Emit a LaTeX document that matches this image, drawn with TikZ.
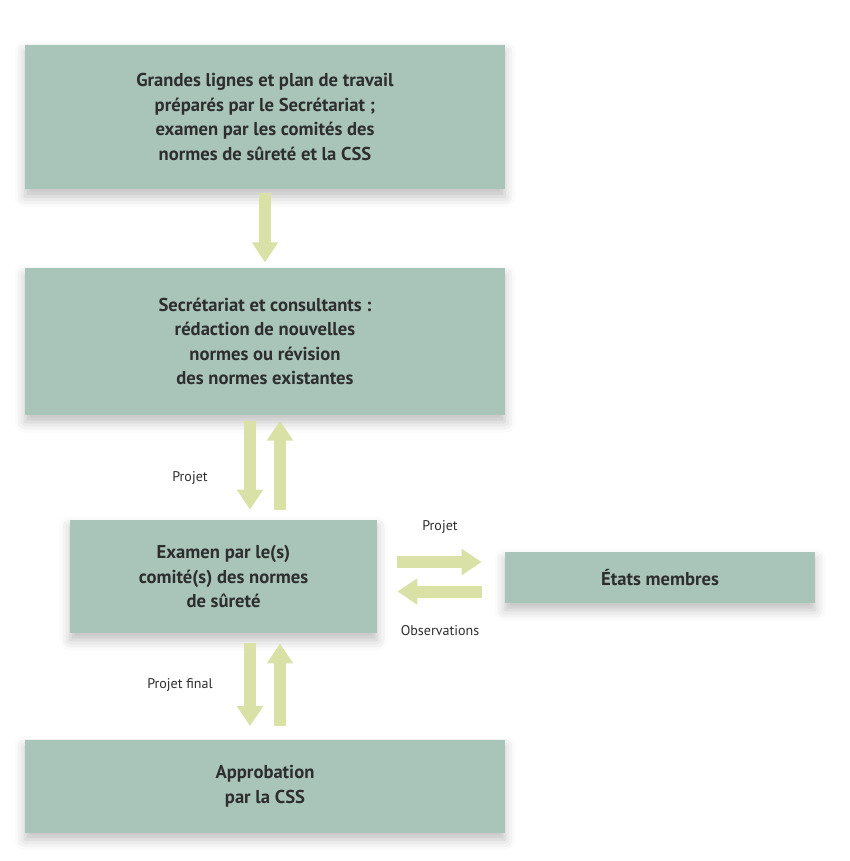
\documentclass[tikz,border=0pt]{standalone}
\usepackage{fontspec}
\setmainfont{PT Sans}
\usetikzlibrary{arrows.meta,shadows.blur}
\definecolor{boxgreen}{HTML}{A9C5BA}
\definecolor{arrowgreen}{HTML}{D9E1A6}
\definecolor{textgray}{HTML}{2E2E2E}
\begin{document}
\begin{tikzpicture}[x = 0.02cm,y = -0.02cm,
    box/.style = {fill = boxgreen,align = center,inner sep = 0pt,text = textgray,
        font = {\bfseries\fontsize{10.6}{14}\selectfont},
        blur shadow = {shadow xshift = 0pt,shadow yshift = -4pt,shadow blur radius = 6pt,shadow opacity = 25}},
    arr/.style = {draw = arrowgreen,line width = 0.24cm,-{Triangle[length = 0.4cm,width = 0.5cm]}},
    lbl/.style = {font = {\fontsize{8}{10}\selectfont},text = textgray}]
        \useasboundingbox (0,0) rectangle (849,861);

        \node[box,minimum width = 9.6cm,minimum height = 2.9cm] (plan) at (265,117)
            {Grandes lignes et plan de travail\\préparés par le Secrétariat ;\\examen par les comités des\\normes de sûreté et la CSS};
        \node[box,minimum width = 9.6cm,minimum height = 2.94cm] (redac) at (265,341.5)
            {Secrétariat et consultants :\\rédaction de nouvelles\\normes ou révision\\des normes existantes};
        \node[box,minimum width = 6.14cm,minimum height = 2.26cm] (examen) at (223.5,576.5)
            {Examen par le(s)\\comité(s) des normes\\de sûreté};
        \node[box,minimum width = 6.2cm,minimum height = 1.02cm] (etats) at (660,577.5) {États membres};
        \node[box,minimum width = 9.6cm,minimum height = 1.86cm] (appro) at (265,786)
            {Approbation\\par la CSS};

        \draw[arr,shorten <= 2pt,shorten >= 3pt] (plan.south) -- (redac.north);

        \draw[arr,shorten <= 3pt,shorten >= 0.2cm] ([xshift = -0.3cm]redac.south) -- ([xshift = -0.3cm]redac.south |- examen.north);
        \draw[arr,shorten <= 0.2cm,shorten >= 3pt] ([xshift = 0.3cm]redac.south |- examen.north) -- ([xshift = 0.3cm]redac.south);

        \draw[arr,shorten <= 0.4cm,shorten >= 0.46cm] ([yshift = 0.29cm]examen.east) -- ([yshift = 0.29cm]examen.east -| etats.west);
        \draw[arr,shorten <= 0.46cm,shorten >= 0.4cm] ([yshift = -0.3cm]examen.east -| etats.west) -- ([yshift = -0.3cm]examen.east);

        \draw[arr,shorten <= 0.2cm,shorten >= 0.26cm] ([xshift = -0.3cm]appro.north |- examen.south) -- ([xshift = -0.3cm]appro.north);
        \draw[arr,shorten <= 0.26cm,shorten >= 0.2cm] ([xshift = 0.3cm]appro.north) -- ([xshift = 0.3cm]appro.north |- examen.south);

        \node[lbl] (projet1) at (190,478) {Projet};
        \node[lbl] (projet2) at (440,527) {Projet};
        \node[lbl] (obs) at (440,631) {Observations};
        \node[lbl] (final) at (180,685) {Projet final};
    \end{tikzpicture}
\end{document}
